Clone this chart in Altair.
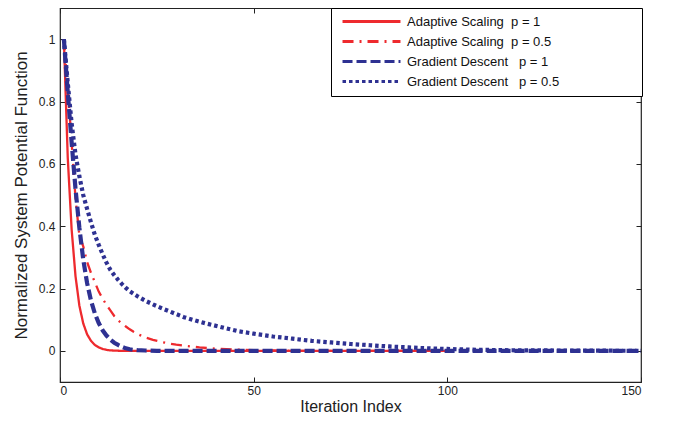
import altair as alt
import pandas as pd

NB = "\u00a0"
series = [
    "Adaptive Scaling" + NB * 2 + "p = 1",
    "Adaptive Scaling" + NB * 2 + "p = 0.5",
    "Gradient Descent" + NB * 3 + "p = 1",
    "Gradient Descent" + NB * 3 + "p = 0.5",
]
colors = ["#ee2a2e", "#ee2a2e", "#2e3192", "#2e3192"]
dashes = [[1, 0], [11, 6, 2, 6], [10, 4], [3.5, 3]]

# Adaptive Scaling p = 1
as1_x = [1, 2, 3, 4, 5, 6, 7, 8, 9, 10, 11, 12, 13, 14, 15, 16, 20, 30, 40, 50, 60, 70, 80, 90, 100]
as1_y = [1.0, 0.62, 0.39, 0.24, 0.145, 0.088, 0.053, 0.032, 0.019, 0.011, 0.006, 0.003, 0.0015, 0.0007,
         0.0003, 0.0, 0.0, 0.0, 0.0, 0.0, 0.0, 0.0, 0.0, 0.0, 0.0]

# Adaptive Scaling p = 0.5
as05_x = [1, 2, 3, 4, 5, 6, 7, 8, 9, 10, 11, 12, 13, 14, 15, 16, 17, 18, 19, 20, 22, 24, 26, 28, 30,
          33, 36, 40, 45, 50, 55, 60, 70, 80, 90, 100]
as05_y = [1.0, 0.84, 0.67, 0.49, 0.37, 0.335, 0.285, 0.25, 0.22, 0.19, 0.168, 0.147, 0.13, 0.112,
          0.098, 0.087, 0.078, 0.069, 0.061, 0.054, 0.043, 0.035, 0.029, 0.024, 0.02, 0.015, 0.011,
          0.007, 0.004, 0.002, 0.001, 0.0, 0.0, 0.0, 0.0, 0.0]

# Gradient Descent p = 1
gd1_x = [1, 2, 3, 4, 5, 6, 7, 8, 9, 10, 11, 12, 13, 14, 15, 16, 17, 18, 19, 20, 22, 25, 30, 40, 50,
         60, 70, 80, 90, 100, 110, 120, 130, 140, 150]
gd1_y = [1.0, 0.83, 0.67, 0.52, 0.395, 0.293, 0.217, 0.161, 0.12, 0.089, 0.066, 0.049, 0.036, 0.026,
         0.019, 0.013, 0.008, 0.005, 0.003, 0.002, 0.001, 0.0, 0.0, 0.0, 0.0, 0.0, 0.0, 0.0, 0.0, 0.0,
         0.0, 0.0, 0.0, 0.0, 0.0]

# Gradient Descent p = 0.5
gd05_x = [1, 2, 3, 4, 5, 6, 7, 8, 9, 10, 11, 12, 13, 14, 15, 16, 17, 18, 20, 22, 24, 26, 28, 30, 32,
          35, 38, 42, 46, 50, 55, 60, 65, 70, 75, 80, 85, 90, 95, 100, 105, 110, 115, 120, 130, 140, 150]
gd05_y = [1.0, 0.86, 0.73, 0.63, 0.56, 0.50, 0.455, 0.412, 0.372, 0.34, 0.31, 0.283, 0.26, 0.243,
          0.228, 0.214, 0.202, 0.191, 0.175, 0.161, 0.149, 0.138, 0.128, 0.118, 0.108, 0.097, 0.087,
          0.075, 0.063, 0.055, 0.046, 0.039, 0.032, 0.027, 0.022, 0.018, 0.014, 0.011, 0.008, 0.006,
          0.004, 0.003, 0.002, 0.0015, 0.001, 0.0005, 0.0]

x_ticks = [0, 50, 100, 150]
y_ticks = [0, 0.2, 0.4, 0.6, 0.8, 1]

rows = []
for name, xs, ys in zip(series, [as1_x, as05_x, gd1_x, gd05_x], [as1_y, as05_y, gd1_y, gd05_y]):
    for x, y in zip(xs, ys):
        rows.append({"series": name, "iter": x, "value": y})
df = pd.DataFrame(rows)

FONT = "Liberation Sans"
xscale = alt.Scale(domain=[0, 150], nice=False, zero=False)
yscale = alt.Scale(domain=[-0.1, 1.1], nice=False, zero=False)

pad_nb = NB * 21 + "\u200b"
legend = alt.Legend(
    title=None, orient="none", legendX=271, legendY=0,
    symbolType="M-10,0H10", symbolSize=33.6, symbolOffset=27, labelOffset=29,
    symbolStrokeWidth=3,
    labelFont=FONT, labelFontSize=13, labelColor="#111", labelLimit=500,
    labelExpr="datum.label + '" + pad_nb + "'",
    strokeColor="black", fillColor="white", padding=7, rowPadding=6,
)

main = alt.Chart(df).mark_line(clip=True).encode(
    x=alt.X("iter:Q", scale=xscale,
            axis=alt.Axis(title="Iteration Index", values=x_ticks, format="d", grid=False, domain=False,
                          offset=-5, tickSize=5, labelPadding=3, titlePadding=2,
                          labelFont=FONT, labelFontSize=12, titleFont=FONT, titleFontSize=16,
                          titleFontWeight="normal", labelColor="#222", titleColor="#222",
                          tickColor="#222")),
    y=alt.Y("value:Q", scale=yscale,
            axis=alt.Axis(title="Normalized System Potential Function", values=y_ticks, format="~g",
                          grid=False, domain=False, offset=-5, tickSize=5, labelPadding=5,
                          titlePadding=8, labelFont=FONT, labelFontSize=12, titleFont=FONT,
                          titleFontSize=17, titleFontWeight="normal", labelColor="#222",
                          titleColor="#222", tickColor="#222")),
    color=alt.Color("series:N", scale=alt.Scale(domain=series, range=colors), legend=legend),
    strokeDash=alt.StrokeDash("series:N", scale=alt.Scale(domain=series, range=dashes), legend=legend),
    strokeWidth=alt.condition(alt.FieldOneOfPredicate(field="series", oneOf=series[2:]),
                              alt.value(4.2), alt.value(2.3)),
    detail="series:N",
)

ticks_layer = alt.Chart(df).mark_line(opacity=0).encode(
    x=alt.X("iter:Q", scale=xscale,
            axis=alt.Axis(orient="top", title=None, values=x_ticks, labels=False, grid=False,
                          domain=False, offset=-5, tickSize=5, tickColor="#222")),
    y=alt.Y("value:Q", scale=yscale,
            axis=alt.Axis(orient="right", title=None, values=y_ticks, labels=False, grid=False,
                          domain=False, offset=-5, tickSize=5, tickColor="#222")),
    detail="series:N",
)

chart = alt.layer(main, ticks_layer).resolve_scale(x="independent", y="independent").properties(
    width=581, height=374, autosize="none",
    padding={"left": 52, "top": 0, "right": 25, "bottom": 31},
    background="white",
).configure_view(stroke="#222", strokeWidth=1.2)

chart.save("out.html", embed_options={"renderer": "svg", "actions": False})
